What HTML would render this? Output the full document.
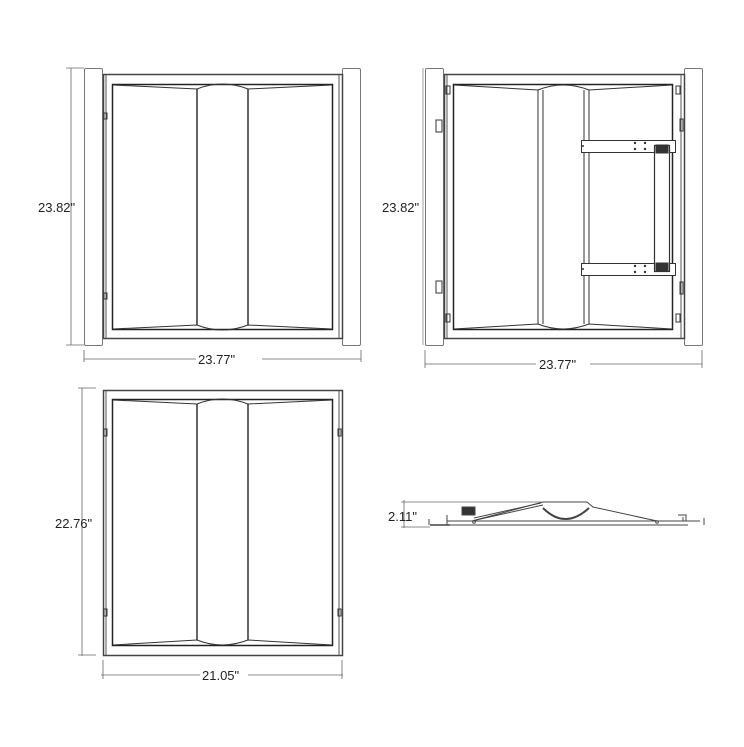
<!DOCTYPE html>
<html><head><style>
html,body{margin:0;padding:0;background:#fff;width:744px;height:747px;overflow:hidden}
svg{display:block}
text{font-family:"Liberation Sans",Arial,sans-serif;font-size:13px;fill:#222}
</style></head><body>
<svg width="744" height="747" viewBox="0 0 744 747" xmlns="http://www.w3.org/2000/svg">
<g fill="none" stroke="#333" stroke-width="1">
<!-- ===== TOP LEFT ===== -->
<rect x="84.5" y="68.5" width="18" height="277" rx="1.5" stroke="#777"/>
<rect x="342.5" y="68.5" width="18" height="277" rx="1.5" stroke="#777"/>
<rect x="103.5" y="74.5" width="239" height="264" stroke="#444" stroke-width="1.5"/>
<line x1="106" y1="75" x2="106" y2="338" stroke="#555"/>
<line x1="339" y1="75" x2="339" y2="338" stroke="#555"/>
<rect x="112.5" y="84.5" width="220" height="245" stroke="#222" stroke-width="1.5"/>
<line x1="197" y1="89" x2="197" y2="325" stroke-width="1.5"/>
<line x1="248" y1="89" x2="248" y2="325" stroke-width="1.5"/>
<path d="M113 85 L197 89 Q222 79 248 89 L332 85"/>
<path d="M113 329 L197 325 Q222 335 248 325 L332 329"/>
<rect x="104" y="113" width="3" height="6"/><rect x="104" y="293" width="3" height="6"/>
<!-- dims -->
<g stroke="#666" stroke-width="0.8">
<line x1="71" y1="68" x2="71" y2="345"/><line x1="66" y1="68" x2="84" y2="68"/><line x1="66" y1="345" x2="84" y2="345"/>
<line x1="84" y1="359" x2="196" y2="359"/><line x1="262" y1="359" x2="361" y2="359"/>
<line x1="84" y1="350" x2="84" y2="362"/><line x1="361" y1="350" x2="361" y2="362"/>
</g>

<!-- ===== TOP RIGHT ===== -->
<rect x="425.5" y="68.5" width="18" height="277" rx="1.5" stroke="#777"/>
<rect x="684.5" y="68.5" width="18" height="277" rx="1.5" stroke="#777"/>
<rect x="444.5" y="74.5" width="240" height="264" stroke="#444" stroke-width="1.5"/>
<line x1="447" y1="75" x2="447" y2="338" stroke="#555"/>
<line x1="681" y1="75" x2="681" y2="338" stroke="#555"/>
<rect x="453.5" y="84.5" width="219" height="245" stroke="#222" stroke-width="1.5"/>
<line x1="538" y1="90" x2="538" y2="324"/><line x1="543" y1="90" x2="543" y2="324"/>
<line x1="584" y1="90" x2="584" y2="324"/><line x1="589" y1="90" x2="589" y2="324"/>
<path d="M454 85 L538 90 Q563 80 589 90 L672 85"/>
<path d="M454 329 L538 324 Q563 334 589 324 L672 329"/>
<rect x="436" y="120" width="6" height="12"/><rect x="436" y="281" width="6" height="12"/>
<rect x="446" y="86" width="4" height="8"/><rect x="446" y="314" width="4" height="8"/>
<rect x="676" y="86" width="4" height="8"/><rect x="676" y="314" width="4" height="8"/>
<rect x="680" y="119" width="3" height="12"/><rect x="680" y="282" width="3" height="12"/>
<rect x="581.5" y="140.5" width="94" height="12" fill="#fff"/>
<rect x="581.5" y="263.5" width="94" height="12" fill="#fff"/>
<rect x="654.5" y="145.5" width="15" height="126" fill="#fff" stroke-width="1.2"/>
<rect x="656" y="145" width="12" height="8" fill="#333"/>
<rect x="656" y="263" width="12" height="8" fill="#333"/>
<g fill="#333" stroke="none">
<circle cx="635" cy="143" r="1.2"/><circle cx="645" cy="143" r="1.2"/><circle cx="635" cy="149" r="1.2"/><circle cx="645" cy="149" r="1.2"/>
<circle cx="635" cy="266" r="1.2"/><circle cx="645" cy="266" r="1.2"/><circle cx="635" cy="272" r="1.2"/><circle cx="645" cy="272" r="1.2"/>
<circle cx="583" cy="146" r="1"/><circle cx="583" cy="269" r="1"/>
</g>
<g stroke="#666" stroke-width="0.8">
<line x1="425" y1="364" x2="536" y2="364"/><line x1="590" y1="364" x2="702" y2="364"/>
<line x1="425" y1="350" x2="425" y2="368"/><line x1="702" y1="350" x2="702" y2="368"/>
<line x1="423" y1="68" x2="423" y2="345" stroke="#888"/>
</g>

<!-- ===== BOTTOM LEFT ===== -->
<rect x="103.5" y="390.5" width="239" height="265" stroke="#444" stroke-width="1.5"/>
<line x1="106" y1="391" x2="106" y2="655" stroke="#555"/>
<line x1="339" y1="391" x2="339" y2="655" stroke="#555"/>
<rect x="112.5" y="399.5" width="220" height="246" stroke="#222" stroke-width="1.5"/>
<line x1="197" y1="404" x2="197" y2="640" stroke-width="1.5"/>
<line x1="248" y1="404" x2="248" y2="640" stroke-width="1.5"/>
<path d="M113 400 L197 404 Q222 394 248 404 L332 400"/>
<path d="M113 645 L197 640 Q222 650 248 640 L332 645"/>
<rect x="104" y="429" width="3" height="7"/><rect x="104" y="609" width="3" height="7"/>
<rect x="338" y="429" width="3" height="7"/><rect x="338" y="609" width="3" height="7"/>
<g stroke="#666" stroke-width="0.8">
<line x1="82" y1="388" x2="82" y2="656"/><line x1="78" y1="388" x2="96" y2="388"/><line x1="78" y1="655" x2="96" y2="655"/>
<line x1="101" y1="675" x2="200" y2="675"/><line x1="248" y1="675" x2="343" y2="675"/>
<line x1="103" y1="660" x2="103" y2="679"/><line x1="342" y1="660" x2="342" y2="679"/>
</g>

<!-- ===== SIDE VIEW ===== -->
<g stroke="#444" stroke-width="1">
<line x1="447" y1="521" x2="700" y2="521"/>
<line x1="447" y1="525" x2="688" y2="525"/>
<line x1="447" y1="515" x2="447" y2="525"/>
<line x1="430" y1="525" x2="450" y2="525" stroke-width="1.5"/>
<line x1="429" y1="519" x2="429" y2="525"/>
<path d="M472 521 L543 502 L587 502 L593 507 L657 521"/>
<path d="M474 518 L541 503" /><path d="M476 520 L543 505"/>
<path d="M543 508 Q565 530 589 508" stroke-width="2"/>
<rect x="462" y="507" width="13" height="8" fill="#333"/>
<circle cx="474" cy="522" r="1.3"/><circle cx="657" cy="522" r="1.3"/>
<path d="M678 515 L686 515 L686 521 M683 517 L683 521"/>
<line x1="704" y1="518" x2="704" y2="525"/>
</g>
<g stroke="#666" stroke-width="0.8">
<line x1="404" y1="500" x2="404" y2="528"/>
<line x1="401" y1="502" x2="543" y2="502"/>
<line x1="401" y1="527" x2="430" y2="527"/>
</g>
</g>
<text x="38" y="212">23.82"</text>
<text x="198" y="364">23.77"</text>
<text x="382" y="212">23.82"</text>
<text x="539" y="369">23.77"</text>
<text x="55" y="528">22.76"</text>
<text x="202" y="680">21.05"</text>
<text x="388" y="521">2.11"</text>
</svg>
</body></html>
